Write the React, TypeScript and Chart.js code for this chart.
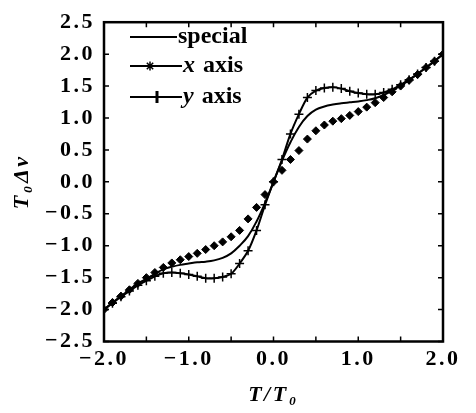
import React, { useEffect, useRef } from "react";
import { Chart, registerables } from "chart.js";

Chart.register(...registerables);

// T/T0 sample positions
const tValues = [
  -2.0, -1.9, -1.8, -1.7, -1.6, -1.5, -1.4, -1.3, -1.2, -1.1, -1.0, -0.9, -0.8, -0.7, -0.6, -0.5, -0.4, -0.3, -0.2, -0.1,
  0.0,
  0.1, 0.2, 0.3, 0.4, 0.5, 0.6, 0.7, 0.8, 0.9, 1.0, 1.1, 1.2, 1.3, 1.4, 1.5, 1.6, 1.7, 1.8, 1.9, 2.0,
];

const specialValues = [
  -2.0, -1.89, -1.79, -1.69, -1.59, -1.52, -1.44, -1.37, -1.33, -1.3, -1.28, -1.26, -1.25, -1.23, -1.19, -1.12, -1.0, -0.85, -0.62, -0.33,
  0.0,
  0.33, 0.62, 0.86, 1.03, 1.13, 1.18, 1.21, 1.23, 1.245, 1.26, 1.28, 1.31, 1.36, 1.43, 1.51, 1.59, 1.69, 1.79, 1.89, 2.0,
];

const xAxisValues = [
  -2.0, -1.89, -1.79, -1.69, -1.59, -1.5, -1.42, -1.34, -1.27, -1.22, -1.17, -1.12, -1.06, -1.0, -0.94, -0.86, -0.76, -0.58, -0.4, -0.2,
  0.0,
  0.18, 0.35, 0.49, 0.67, 0.8, 0.89, 0.95, 0.99, 1.04, 1.1, 1.17, 1.24, 1.32, 1.41, 1.5, 1.59, 1.68, 1.79, 1.89, 2.0,
];

const yAxisValues = [
  -2.0, -1.9, -1.8, -1.71, -1.62, -1.55, -1.48, -1.43, -1.42, -1.43, -1.45, -1.48, -1.51, -1.51, -1.49, -1.44, -1.28, -1.08, -0.76, -0.36,
  0.0,
  0.35, 0.75, 1.06, 1.32, 1.43, 1.47, 1.48, 1.46, 1.42, 1.39, 1.37, 1.37, 1.4, 1.45, 1.52, 1.6, 1.69, 1.79, 1.89, 2.0,
];

const seriesNames = ["special", "x axis", "y axis"];
const minorTicks = [-2.5, -2.0, -1.5, -1.0, -0.5, 0.0, 0.5, 1.0, 1.5, 2.0, 2.5];

const xTitle = "T/T\u2080";
const yTitle = "T\u2080\u0394\u03bd";

const FONT = "'Liberation Serif', 'Times New Roman', serif";

const fmt = (v: number) => {
  const s = Number(v).toFixed(1);
  return s.startsWith("-") ? "\u2212" + s.slice(1) : s;
};

const SPACING = "2.5px";

const framePlugin = {
  id: "frame",
  beforeLayout(chart: any) {
    chart.ctx.letterSpacing = SPACING;
  },
  beforeDraw(chart: any) {
    chart.ctx.letterSpacing = SPACING;
  },
  afterDraw(chart: any) {
    const ctx = chart.ctx;
    const { left, right, top, bottom } = chart.chartArea;
    const xs = chart.scales.x;
    const ys = chart.scales.y;
    ctx.save();
    ctx.letterSpacing = "0px";
    ctx.strokeStyle = "#000";
    ctx.lineWidth = 2.5;
    ctx.strokeRect(left, top, right - left, bottom - top);
    ctx.lineWidth = 1.5;
    const tl = 5;
    ctx.beginPath();
    minorTicks.forEach((v) => {
      if (v >= xs.min && v <= xs.max) {
        const px = xs.getPixelForValue(v);
        ctx.moveTo(px, bottom);
        ctx.lineTo(px, bottom - tl);
        ctx.moveTo(px, top);
        ctx.lineTo(px, top + tl);
      }
      if (v >= ys.min && v <= ys.max) {
        const py = ys.getPixelForValue(v);
        ctx.moveTo(left, py);
        ctx.lineTo(left + tl, py);
        ctx.moveTo(right, py);
        ctx.lineTo(right - tl, py);
      }
    });
    ctx.stroke();

    // legend
    const rows = [37, 66, 97];
    const lineStart = 130;
    const lineEnds = [177, 182, 182];
    ctx.fillStyle = "#000";
    ctx.textBaseline = "middle";
    chart.data.datasets.forEach((ds: any, i: number) => {
      const y = rows[i];
      ctx.strokeStyle = "#000";
      ctx.lineWidth = 2;
      ctx.beginPath();
      ctx.moveTo(lineStart, y);
      ctx.lineTo(lineEnds[i], y);
      ctx.stroke();
      if (i === 1) {
        const cx = 150;
        ctx.lineWidth = 1.5;
        ctx.beginPath();
        for (let k = 0; k < 4; k++) {
          const a = (k * Math.PI) / 4;
          ctx.moveTo(cx - 4.5 * Math.cos(a), y - 4.5 * Math.sin(a));
          ctx.lineTo(cx + 4.5 * Math.cos(a), y + 4.5 * Math.sin(a));
        }
        ctx.stroke();
      } else if (i === 2) {
        const cx = 157;
        ctx.lineWidth = 3;
        ctx.beginPath();
        ctx.moveTo(cx, y - 6);
        ctx.lineTo(cx, y + 6);
        ctx.stroke();
      }
      const label: string = ds.label;
      const tx = lineEnds[i] + 1;
      if (label.includes(" ")) {
        const first = label.split(" ")[0];
        const rest = " " + label.split(" ").slice(1).join(" ");
        ctx.font = `italic bold 24px ${FONT}`;
        ctx.fillText(first, tx, y);
        const w = ctx.measureText(first).width;
        ctx.font = `bold 24px ${FONT}`;
        ctx.fillText(rest, tx + w + 2, y);
      } else {
        ctx.font = `bold 24px ${FONT}`;
        ctx.fillText(label, tx, y);
      }
    });
    ctx.restore();
  },
};

export default function App() {
  const ref = useRef<HTMLCanvasElement | null>(null);

  useEffect(() => {
    if (!ref.current) return;
    const mk = (vals: number[]) => tValues.map((t, i) => ({ x: t, y: vals[i] }));
    const chart = new Chart(ref.current, {
      type: "line",
      data: {
        datasets: [
          {
            label: seriesNames[0],
            data: mk(specialValues),
            borderColor: "#000",
            backgroundColor: "#000",
            borderWidth: 2,
            pointRadius: 0,
            tension: 0.4,
          },
          {
            label: seriesNames[1],
            data: mk(xAxisValues),
            borderColor: "#000",
            backgroundColor: "#000",
            showLine: false,
            pointStyle: "rectRot",
            pointRadius: 4,
            pointBorderWidth: 1,
          },
          {
            label: seriesNames[2],
            data: mk(yAxisValues),
            borderColor: "#000",
            backgroundColor: "#000",
            borderWidth: 2,
            pointStyle: "cross",
            pointRadius: 4.5,
            pointBorderWidth: 1.5,
            tension: 0.3,
          },
        ],
      },
      options: {
        animation: false,
        responsive: false,
        devicePixelRatio: 1,
        layout: { padding: { top: 16.5, right: 33, left: 0, bottom: 0 } },
        plugins: { legend: { display: false }, tooltip: { enabled: false } },
        scales: {
          x: {
            type: "linear",
            min: -2,
            max: 2,
            grid: { display: false, drawTicks: false },
            border: { display: false },
            ticks: {
              stepSize: 1,
              padding: 5,
              color: "#000",
              font: { family: FONT, size: 22, weight: "bold" },
              callback: (v: any) => fmt(v),
              maxRotation: 0,
              autoSkip: false,
            },
            title: {
              display: true,
              text: xTitle,
              color: "#000",
              font: { family: FONT, size: 22, weight: "bold", style: "italic" },
              padding: { top: 0, bottom: 4 },
            },
            afterFit: (s: any) => {
              s.height = 71.5;
            },
          },
          y: {
            type: "linear",
            min: -2.5,
            max: 2.5,
            grid: { display: false, drawTicks: false },
            border: { display: false },
            ticks: {
              stepSize: 0.5,
              padding: 9,
              color: "#000",
              font: { family: FONT, size: 22, weight: "bold" },
              callback: (v: any) => fmt(v),
              autoSkip: false,
            },
            title: {
              display: true,
              text: yTitle,
              color: "#000",
              font: { family: FONT, size: 22, weight: "bold", style: "italic" },
              padding: { top: 9, bottom: 0 },
            },
            afterFit: (s: any) => {
              s.width = 104;
            },
          },
        },
      },
      plugins: [framePlugin],
    } as any);
    return () => chart.destroy();
  }, []);

  return (
    <div style={{ position: "fixed", left: 0, top: 0, width: 476, height: 413, background: "#fff" }}>
      <canvas ref={ref} width={476} height={413} style={{ width: 476, height: 413, display: "block" }} />
    </div>
  );
}
